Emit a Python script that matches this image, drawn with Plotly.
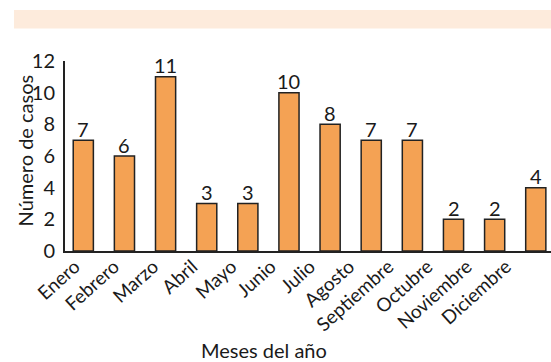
import plotly.graph_objects as go

meses = ["Enero", "Febrero", "Marzo", "Abril", "Mayo", "Junio", "Julio",
         "Agosto", "Septiembre", "Octubre", "Noviembre", "Diciembre"]
casos = [7, 6, 11, 3, 3, 10, 8, 7, 7, 2, 2, 4]
y_ticks = [0, 2, 4, 6, 8, 10, 12]

FONT = "Lato"
TXT = "#1a1a1a"

fig = go.Figure()
fig.add_trace(go.Bar(
    x=meses, y=casos,
    width=0.49,
    marker=dict(color="#F4A254", line=dict(color="#222222", width=1.5)),
    cliponaxis=False,
    hoverinfo="x+y",
))
# invisible carrier trace so the month-label axis is rendered
fig.add_trace(go.Scatter(
    x=list(range(len(meses))), y=casos, xaxis="x2", yaxis="y",
    mode="markers", marker=dict(opacity=0), hoverinfo="skip",
    showlegend=False,
))

value_labels = [
    dict(x=m, y=v, xref="x", yref="y", text=str(v), showarrow=False,
         xanchor="center", yanchor="bottom", yshift=-2.5,
         font=dict(family=FONT, size=20, color=TXT))
    for m, v in zip(meses, casos)
]

fig.update_layout(
    width=551, height=362,
    margin=dict(l=65, r=0, t=61, b=111),
    paper_bgcolor="white", plot_bgcolor="white",
    showlegend=False,
    font=dict(family=FONT, size=20, color=TXT),
    bargap=0.5,
    xaxis=dict(
        type="category",
        range=[-0.445, 11.37],
        showline=True, linecolor="#222222", linewidth=2,
        showgrid=False, zeroline=False, ticks="",
        showticklabels=False,
    ),
    xaxis2=dict(
        overlaying="x", anchor="y", side="bottom",
        range=[-0.255, 12.146],
        tickvals=list(range(len(meses))), ticktext=meses,
        showline=False, showgrid=False, zeroline=False, ticks="",
        tickangle=-42,
        tickfont=dict(family=FONT, size=19, color=TXT),
    ),
    yaxis=dict(
        range=[0, 12],
        tickvals=y_ticks,
        showline=True, linecolor="#222222", linewidth=2,
        showgrid=False, zeroline=False, ticks="",
        ticklabelstandoff=4,
        tickfont=dict(family=FONT, size=20, color=TXT),
    ),
    shapes=[dict(
        type="rect", xref="paper", yref="paper",
        x0=-0.105, x1=1.0, y0=1.171, y1=1.268,
        fillcolor="#FDEBDC", line=dict(width=0), layer="below",
    )],
    annotations=value_labels + [
        dict(text="Número de casos", xref="paper", yref="paper",
             x=-0.082, y=0.53, textangle=-90, showarrow=False,
             font=dict(family=FONT, size=20, color=TXT),
             xanchor="center", yanchor="middle"),
        dict(text="Meses del año", xref="paper", yref="paper",
             x=0.41, y=-0.52, showarrow=False,
             font=dict(family=FONT, size=20, color=TXT),
             xanchor="center", yanchor="middle"),
    ],
)

fig.write_html("out.html")
